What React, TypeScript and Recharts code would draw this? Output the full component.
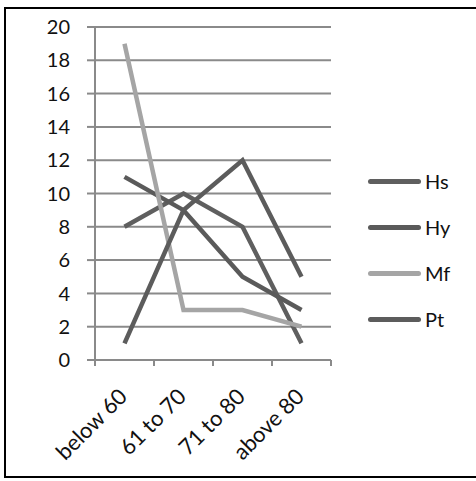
import React from 'react';
import { LineChart, Line, XAxis, YAxis, CartesianGrid, Legend } from 'recharts';

const categories = ['below 60', '61 to 70', '71 to 80', 'above 80'];
const hs = [8, 10, 8, 1];
const hy = [11, 9, 5, 3];
const mf = [19, 3, 3, 2];
const pt = [1, 9, 12, 5];
const yTicks = [0, 2, 4, 6, 8, 10, 12, 14, 16, 18, 20];

const data = categories.map((c, i) => ({ name: c, Hs: hs[i], Hy: hy[i], Mf: mf[i], Pt: pt[i] }));

const FONT = 'Lato, "Open Sans", sans-serif';
const GRID = '#8a8a8a';
const BAND = 59;

function XTick(props: any) {
  const { x, y, payload, index } = props;
  const last = index === categories.length - 1;
  const tx = x + 4;
  const ty = y + 30;
  return (
    <g>
      <line x1={x - BAND / 2} x2={x - BAND / 2} y1={y - 8} y2={y - 2} stroke={GRID} strokeWidth={2} />
      {last && <line x1={x + BAND / 2} x2={x + BAND / 2} y1={y - 8} y2={y - 2} stroke={GRID} strokeWidth={2} />}
      <text
        x={tx}
        y={ty}
        transform={`rotate(-45, ${tx}, ${ty})`}
        textAnchor="end"
        fontSize={22}
        fontFamily={FONT}
        fill="#111"
      >
        {payload.value}
      </text>
    </g>
  );
}

function LegendBox({ payload }: any) {
  return (
    <div style={{ fontFamily: FONT, fontSize: 20, color: '#111' }}>
      {payload.map((p: any) => (
        <div key={p.value} style={{ display: 'flex', alignItems: 'center', height: 46 }}>
          <span style={{ display: 'inline-block', width: 53, height: 5, borderRadius: 3, background: p.color, marginRight: 4 }} />
          <span>{p.value}</span>
        </div>
      ))}
    </div>
  );
}

export default function App() {
  return (
    <div style={{ position: 'absolute', left: 0, top: 0, width: 476, height: 481, overflow: 'hidden', background: '#fff' }}>
      <div style={{ position: 'absolute', left: 4, top: 7, width: 490, height: 471, border: '2.5px solid #000', boxSizing: 'border-box' }} />
      <div style={{ position: 'absolute', left: 0, top: 0 }}>
        <LineChart width={476} height={481} data={data} margin={{ top: 27, right: 45, bottom: 0, left: 35 }}>
          <CartesianGrid vertical={false} stroke={GRID} strokeWidth={2} />
          <XAxis
            dataKey="name"
            padding={{ left: BAND / 2, right: BAND / 2 }}
            tickLine={false}
            axisLine={{ stroke: GRID, strokeWidth: 2 }}
            tick={<XTick />}
            interval={0}
            height={121}
          />
          <YAxis
            domain={[0, 20]}
            ticks={yTicks}
            width={60}
            tickSize={8}
            tickMargin={17}
            tickLine={{ stroke: GRID, strokeWidth: 2 }}
            axisLine={{ stroke: GRID, strokeWidth: 2 }}
            tick={{ fontSize: 20, fontFamily: FONT, fill: '#111' }}
          />
          <Legend
            layout="horizontal"
            align="right"
            verticalAlign="middle"
            content={<LegendBox />}
            wrapperStyle={{ left: 368, top: 158, width: 100 }}
          />
          <Line dataKey="Hs" stroke="#5f5f5f" strokeWidth={4.5} dot={false} isAnimationActive={false} />
          <Line dataKey="Hy" stroke="#5a5a5a" strokeWidth={4.5} dot={false} isAnimationActive={false} />
          <Line dataKey="Mf" stroke="#a5a5a5" strokeWidth={4.5} dot={false} isAnimationActive={false} />
          <Line dataKey="Pt" stroke="#5c5c5c" strokeWidth={4.5} dot={false} isAnimationActive={false} />
        </LineChart>
      </div>
    </div>
  );
}
